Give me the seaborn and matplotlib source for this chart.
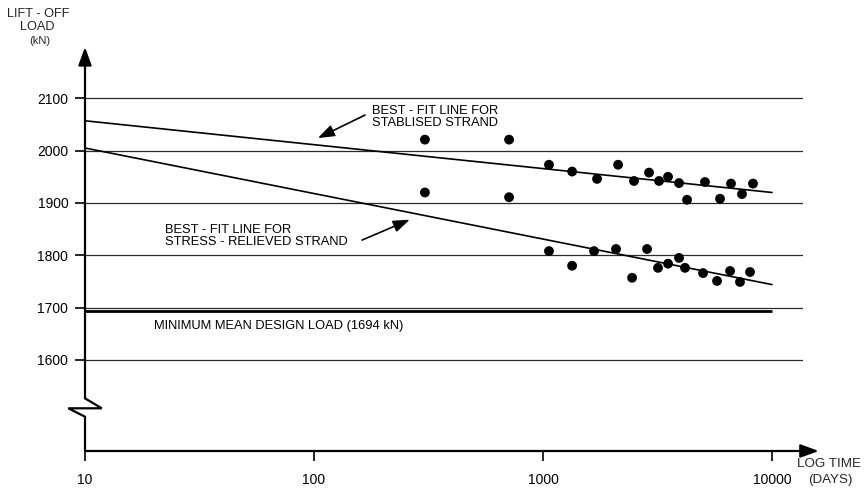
import matplotlib
matplotlib.use("Agg")
import matplotlib.pyplot as plt
from matplotlib.lines import Line2D
import pandas as pd
import seaborn as sns

# Lift-off load readings (kN) against time since stressing (days)
stabilised_days = [305, 711, 1062, 1340, 1722, 2128, 2497, 2904, 3212, 3516,
                   3927, 4256, 5097, 5929, 6622, 7396, 8260]
stabilised_load = [2021, 2021, 1973, 1960, 1946, 1973, 1942, 1958, 1942, 1950,
                   1938, 1906, 1940, 1908, 1937, 1917, 1937]
relieved_days = [305, 711, 1062, 1340, 1671, 2084, 2449, 2847, 3178, 3516,
                 3927, 4170, 5000, 5754, 6560, 7248, 8017]
relieved_load = [1920, 1911, 1808, 1780, 1808, 1812, 1757, 1812, 1776, 1784,
                 1795, 1776, 1766, 1751, 1770, 1749, 1768]

# Best-fit lines (end points on the log-time axis)
fit_days = [10, 10000]
stabilised_fit = [2057, 1920]
relieved_fit = [2005, 1744]
design_load = 1694

y_ticks = [1600, 1700, 1800, 1900, 2000, 2100]
x_ticks = [10, 100, 1000, 10000]
x_tick_labels = ["10", "100", "1000", "10000"]

sns.set_theme(style="white")
plt.rcParams["font.family"] = ["Liberation Sans", "DejaVu Sans"]

W, H = 865, 490
fig = plt.figure(figsize=(W / 100, H / 100), dpi=100)
ax = fig.add_axes([85 / W, (H - 451) / H, 718 / W, 404 / H])

points = pd.DataFrame({
    "days": stabilised_days + relieved_days,
    "load": stabilised_load + relieved_load,
})
fits = pd.DataFrame({
    "days": fit_days * 2,
    "load": stabilised_fit + relieved_fit,
    "strand": ["stabilised"] * 2 + ["relieved"] * 2,
})

ax.set_xscale("log")
ax.set_xlim(10, 10 ** (1 + 718 / 229))
ax.set_ylim(1426, 2198)

# horizontal reference lines
for v in y_ticks:
    ax.axhline(v, color="#2a2a2a", lw=0.9, zorder=1)
ax.plot(fit_days, [design_load, design_load], color="black", lw=2.0, zorder=2,
        solid_capstyle="butt")

sns.lineplot(data=fits, x="days", y="load", units="strand", estimator=None,
             color="black", lw=1.2, ax=ax, zorder=3)
sns.scatterplot(data=points, x="days", y="load", color="black", s=50,
                edgecolor="none", ax=ax, zorder=4)

ax.set_xticks(x_ticks)
ax.set_xticklabels(x_tick_labels)
ax.minorticks_off()
ax.set_yticks(y_ticks)
ax.set_yticklabels([str(v) for v in y_ticks])
ax.tick_params(axis="y", direction="out", length=7, width=1.2, pad=5,
               labelsize=10, colors="black", left=True)
ax.tick_params(axis="x", direction="out", length=7, width=1.2, pad=9,
               labelsize=10, colors="black", bottom=True)
ax.set_xlabel("")
ax.set_ylabel("")
for s in ax.spines.values():
    s.set_visible(False)

# axes drawn as arrows, with a break on the load axis
arrow_kw = dict(arrowstyle="-|>,head_length=0.55,head_width=0.2",
                mutation_scale=20, lw=1.6, color="black",
                shrinkA=0, shrinkB=0)
ax.annotate("", xy=(0, 1.0), xytext=(0, 0.1304), xycoords="axes fraction",
            arrowprops=arrow_kw, annotation_clip=False)
ax.annotate("", xy=(1.022, 0), xytext=(0, 0), xycoords="axes fraction",
            arrowprops=arrow_kw, annotation_clip=False)
dx = 16.7 / 718
ax.add_line(Line2D([0, dx, -dx, 0, 0], [0.1304, 0.1057, 0.1057, 0.0849, 0.0],
                   transform=ax.transAxes, color="black", lw=1.6,
                   clip_on=False, solid_joinstyle="miter"))

# annotations
txt = dict(fontsize=9.3, color="black", linespacing=0.98)
ax.text(179, 2087, "BEST - FIT LINE FOR\nSTABLISED STRAND", va="top", ha="left", **txt)
ax.annotate("", xy=(104, 2024), xytext=(167, 2068),
            arrowprops=dict(arrowstyle="-|>,head_length=0.5,head_width=0.18",
                            mutation_scale=20, lw=1.2, color="black",
                            shrinkA=0, shrinkB=0))
ax.text(22.3, 1859, "BEST - FIT LINE FOR\nSTRESS - RELIEVED STRAND", va="top", ha="left", **txt)
ax.annotate("", xy=(262, 1868), xytext=(162, 1829),
            arrowprops=dict(arrowstyle="-|>,head_length=0.5,head_width=0.18",
                            mutation_scale=20, lw=1.2, color="black",
                            shrinkA=0, shrinkB=0))
ax.text(20, 1676, "MINIMUM MEAN DESIGN LOAD (1694 kN)", va="top", ha="left", **txt)

# axis titles
fig.text(38 / W, 1 - 14 / H, "LIFT - OFF", ha="center", va="center", fontsize=9.2)
fig.text(37 / W, 1 - 27 / H, "LOAD", ha="center", va="center", fontsize=9.2)
fig.text(40 / W, 1 - 41 / H, "(kN)", ha="center", va="center", fontsize=8)
fig.text(829 / W, 1 - 464 / H, "LOG TIME", ha="center", va="center", fontsize=9.6)
fig.text(830 / W, 1 - 480 / H, "(DAYS)", ha="center", va="center", fontsize=9.6)

fig.savefig("out.png", dpi=100, facecolor="white")
